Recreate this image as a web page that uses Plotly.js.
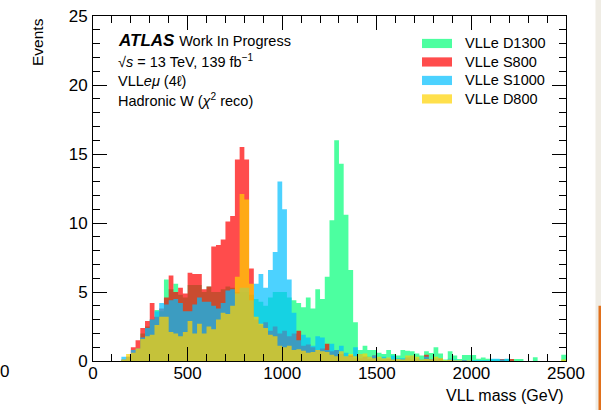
<!DOCTYPE html>
<html>
<head>
<meta charset="utf-8">
<script src="https://cdn.plot.ly/plotly-3.0.1.min.js"></script>
<style>html,body{margin:0;padding:0;background:#fff;}#chart{width:601px;height:410px;}</style>
</head>
<body>
<div id="chart"></div>
<script>
// Histogram binning (GeV)
const binWidth = 25;
const xMin = 0;

// Series values per 25 GeV bin, 0-2500 GeV (100 bins)
const seriesNames = ["VLLe D1300", "VLLe S800", "VLLe S1000", "VLLe D800"];

const d1300 = [
  0,0,0,0,0,0,0.05,0.1,0.4,0.8,
  2.0,2.5,3.0,3.7,3.6,5.9,5.2,5.6,4.8,4.6,
  5.5,5.5,5.5,5.0,5.4,5.0,5.0,5.2,5.4,5.3,
  5.0,5.0,5.0,4.8,4.5,4.3,4.0,4.6,5.0,5.0,
  5.0,4.6,4.4,4.2,3.9,4.6,3.8,5.2,4.5,6.1,
  10.2,16.0,14.3,10.6,6.6,2.8,0.8,1.1,0.8,0.8,
  0.6,0.5,0.8,0.5,0.4,0.8,0.75,0.7,0.55,0.4,
  0.7,0.58,1.0,0.55,0.1,0.7,0.4,0.15,0.43,0.43,
  0.43,0.17,0.26,0.17,0.12,0.12,0.12,0.15,0.15,0.15,
  0.15,0,0,0.28,0,0,0,0,0,0.45
];

const s800 = [
  0,0,0,0,0,0,0.1,0.3,1.0,1.5,
  2.4,2.9,4.2,3.2,3.8,4.6,6.2,5.0,5.3,4.9,
  6.4,6.3,6.3,5.2,5.4,8.3,8.4,8.8,10.1,10.5,
  14.6,15.5,14.6,6.7,3.0,2.6,2.8,2.2,2.5,2.0,
  2.2,1.8,2.0,2.2,1.1,1.2,1.0,0.8,0.9,1.25,
  0.7,0.8,0.5,0.3,0.4,0.2,0.2,0.3,0.15,0.4,
  0.1,0.1,0.15,0.1,0.1,0.1,0.2,0.1,0.1,0.05,
  0.45,0.1,0.1,0.17,0,0.05,0,0,0.05,0,
  0,0,0,0,0,0,0.15,0,0.15,0,
  0,0,0,0,0,0,0,0,0,0
];

const s1000 = [
  0,0,0,0,0,0,0.3,0.3,0.8,0.9,
  1.7,2.4,3.0,3.6,4.2,4.1,4.4,4.5,4.2,3.6,
  3.6,4.1,4.6,4.3,4.3,4.0,3.8,4.2,5.1,5.2,
  4.9,5.3,5.3,4.4,5.6,6.3,5.3,6.6,7.9,13.0,
  11.0,5.9,3.5,1.5,1.9,1.7,1.1,1.8,1.7,0.8,
  1.25,0.8,1.1,0.6,0.3,1.0,0.5,0.3,0.3,0.4,
  0.2,0.3,0.2,0.4,0.2,0.2,0.3,0.35,0.2,0.1,
  0.3,0.1,0.2,0.1,0,0.17,0.1,0.05,0.05,0.05,
  0.05,0.05,0.05,0.05,0.17,0.17,0.1,0.17,0,0,
  0,0,0,0,0,0,0,0,0,0
];

const d800 = [
  0,0,0,0,0,0,0.1,0.5,0.6,0.9,
  1.6,1.8,1.9,2.6,3.2,3.2,2.1,2.0,1.8,2.1,
  2.9,2.0,2.7,2.0,2.5,2.3,3.0,3.5,3.4,4.0,
  6.1,12.1,11.7,5.6,3.2,2.7,2.4,1.9,1.8,1.1,
  1.0,1.1,0.8,0.85,0.75,0.6,0.65,0.8,0.7,0.65,
  0.45,0.35,0.7,0.35,0.5,0.35,0.5,0.55,0.3,0.2,
  0.3,0.2,0.25,0.1,0.15,0.1,0.4,0.4,0.3,0.1,
  0.15,0.1,0.3,0.2,0.05,0.1,0.05,0.05,0,0.05,
  0,0,0,0,0,0,0,0,0,0,
  0,0,0,0,0,0,0,0,0,0.1
];

const fillColors = ["rgba(0,255,119,0.7)", "rgba(255,0,0,0.7)", "rgba(0,191,255,0.7)", "rgba(255,211,0,0.7)"];
const allSeries = [d1300, s800, s1000, d800];

function stepTrace(vals, color, name) {
  const x = [], y = [];
  for (let i = 0; i < vals.length; i++) { x.push(xMin + i * binWidth); y.push(vals[i]); }
  x.push(xMin + vals.length * binWidth); y.push(vals[vals.length - 1]);
  return {type: "scatter", mode: "lines", x: x, y: y, name: name,
          line: {shape: "hv", width: 0, color: color}, fill: "tozeroy", fillcolor: color,
          showlegend: false, hoverinfo: "skip"};
}
const traces = allSeries.map((s, i) => stepTrace(s, fillColors[i], seriesNames[i]));

// pixel -> paper helpers (plot area: x 93..566, y 16..361.3)
const L = 93, R = 566, T = 16, B = 361.3;
const px = p => (p - L) / (R - L);
const py = p => (B - p) / (B - T);

const FONT = "Liberation Sans, Arial, Helvetica, sans-serif";
const annotations = [];
const shapes = [];

// legend
const legY = [43.5, 62, 80.5, 99];
seriesNames.forEach((n, i) => {
  shapes.push({type: "rect", xref: "paper", yref: "paper", x0: px(422), x1: px(452),
    y0: py(legY[i] + 4.6), y1: py(legY[i] - 4.6), fillcolor: fillColors[i], line: {width: 0}, layer: "above"});
  annotations.push({xref: "paper", yref: "paper", x: px(463), y: py(legY[i]), xanchor: "left", yanchor: "middle",
    text: n, showarrow: false, font: {family: FONT, size: 14.5, color: "#000"}});
});

// ATLAS label block
const labels = [
  {t: "<b><i>ATLAS</i></b> <span style=\"font-size:14.5px\">Work In Progress</span>", y: 41, s: 17},
  {t: "√<i>s</i> = 13 TeV, 139 fb<sup>−1</sup>", y: 61.5, s: 14.5},
  {t: "VLL<i>eμ</i> (4ℓ)", y: 81, s: 14.5},
  {t: "Hadronic W (<i>χ</i><sup>2</sup> reco)", y: 100.5, s: 14.5}
];
labels.forEach(l => annotations.push({xref: "paper", yref: "paper", x: px(116), y: py(l.y), xanchor: "left",
  yanchor: "middle", text: l.t, showarrow: false, font: {family: FONT, size: l.s, color: "#000"}}));

// axis titles
annotations.push({xref: "paper", yref: "paper", x: px(37), y: py(16), xanchor: "center", yanchor: "top",
  textangle: -90, text: "Events", showarrow: false, font: {family: FONT, size: 15.5, color: "#000"}});
annotations.push({xref: "paper", yref: "paper", x: px(566), y: py(396), xanchor: "right", yanchor: "middle",
  text: "VLL mass (GeV)", showarrow: false, font: {family: FONT, size: 16, color: "#000"}});

// neighbouring-panel remnants
annotations.push({xref: "paper", yref: "paper", x: px(4), y: py(372), xanchor: "center", yanchor: "middle",
  text: "0", showarrow: false, font: {family: FONT, size: 17, color: "#000"}});
shapes.push({type: "rect", xref: "paper", yref: "paper", x0: px(595.5), x1: px(602), y0: py(-2), y1: py(412),
  fillcolor: "#efece4", line: {width: 0}, layer: "below"});
shapes.push({type: "rect", xref: "paper", yref: "paper", x0: px(598.5), x1: px(601.5), y0: py(306), y1: py(412),
  fillcolor: "#e0701c", line: {width: 0}, layer: "above"});

const axisCommon = {ticks: "inside", ticklen: 14, tickwidth: 1, tickcolor: "#000", showline: true, linecolor: "#000",
  linewidth: 1, mirror: "allticks", showgrid: false, zeroline: false,
  tickfont: {family: FONT, size: 17, color: "#000"}};

const layout = {
  width: 601, height: 410,
  margin: {l: L, r: 601 - R, t: T, b: 410 - B, pad: 0},
  paper_bgcolor: "#fff", plot_bgcolor: "rgba(0,0,0,0)",
  showlegend: false,
  xaxis: Object.assign({}, axisCommon, {range: [0, 2500], dtick: 500, tick0: 0, ticklabelstandoff: -3,
    minor: {dtick: 100, ticks: "inside", ticklen: 7, tickcolor: "#000", showgrid: false}}),
  yaxis: Object.assign({}, axisCommon, {range: [0, 25], dtick: 5, tick0: 0, ticklabelstandoff: 1,
    minor: {dtick: 1, ticks: "inside", ticklen: 7, tickcolor: "#000", showgrid: false}}),
  annotations: annotations,
  shapes: shapes
};

Plotly.newPlot("chart", traces, layout, {staticPlot: true, displayModeBar: false});
</script>
</body>
</html>
